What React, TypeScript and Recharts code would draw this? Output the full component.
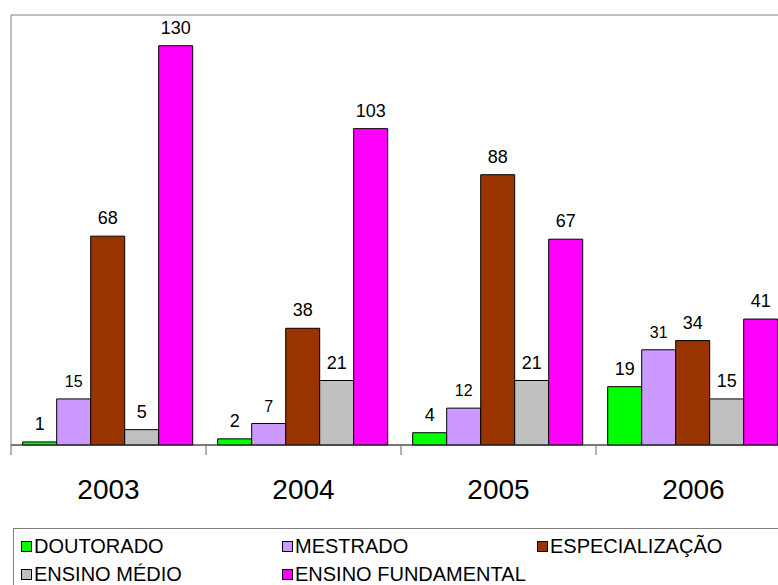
import { BarChart, Bar, XAxis, YAxis, LabelList, ReferenceArea } from 'recharts';

// Categories and series values
const years = ['2003', '2004', '2005', '2006'];
const doutorado = [1, 2, 4, 19];
const mestrado = [15, 7, 12, 31];
const especializacao = [68, 38, 88, 34];
const ensinoMedio = [5, 21, 21, 15];
const ensinoFundamental = [130, 103, 67, 41];

const seriesList = [
  { key: 'doutorado', name: 'DOUTORADO', color: '#00FF00', labelSize: 18 },
  { key: 'mestrado', name: 'MESTRADO', color: '#CC99FF', labelSize: 16 },
  { key: 'especializacao', name: 'ESPECIALIZAÇÃO', color: '#993300', labelSize: 18 },
  { key: 'ensinoMedio', name: 'ENSINO MÉDIO', color: '#C0C0C0', labelSize: 18 },
  { key: 'ensinoFundamental', name: 'ENSINO FUNDAMENTAL', color: '#FF00FF', labelSize: 18 },
];

const data = years.map((year, i) => ({
  year,
  doutorado: doutorado[i],
  mestrado: mestrado[i],
  especializacao: especializacao[i],
  ensinoMedio: ensinoMedio[i],
  ensinoFundamental: ensinoFundamental[i],
}));

const FONT = '"Liberation Sans", Arial, sans-serif';

/** Chart is wider than the window; the right edge gets clipped like the reference. */
const CHART_W = 800;
const CHART_H = 520;
const MARGIN = { top: 15, right: 9, bottom: 15, left: 11 };
const HALF_BAND = (CHART_W - MARGIN.left - MARGIN.right) / years.length / 2;

// Year label centred in the band, tick mark on the band's left boundary
function YearTick(props: any) {
  const { x, y, payload } = props;
  return (
    <g>
      <line x1={x - HALF_BAND} y1={y} x2={x - HALF_BAND} y2={y + 10} stroke="#666" strokeWidth={1} />
      <text x={x} y={y + 54} textAnchor="middle" fontSize={28} fontFamily={FONT} fill="#000">
        {payload.value}
      </text>
    </g>
  );
}

// Two-row legend in a box that runs off the right edge
const legendRows = [
  [seriesList[0], seriesList[1], seriesList[2]],
  [seriesList[3], seriesList[4]],
];
const legendColX = [7, 268, 523];

function LegendBox() {
  return (
    <div
      style={{
        position: 'absolute',
        left: 13,
        top: 528,
        width: 800,
        height: 70,
        borderTop: '1px solid #808080',
        borderLeft: '1px solid #808080',
        fontFamily: FONT,
        fontSize: 20,
        color: '#000',
      }}
    >
      {legendRows.map((row, r) =>
        row.map((s, c) => (
          <div
            key={s.key}
            style={{
              position: 'absolute',
              left: legendColX[c],
              top: 6 + r * 28,
              display: 'flex',
              alignItems: 'center',
              whiteSpace: 'nowrap',
              lineHeight: '22px',
            }}
          >
            <span
              style={{
                display: 'inline-block',
                width: 9,
                height: 9,
                background: s.color,
                border: '1px solid #000',
                marginRight: 2,
              }}
            />
            {s.name}
          </div>
        ))
      )}
    </div>
  );
}

export default function App() {
  return (
    <div
      style={{
        position: 'absolute',
        left: 0,
        top: 0,
        width: 778,
        height: 585,
        overflow: 'hidden',
        background: '#fff',
      }}
    >
      <BarChart
        width={CHART_W}
        height={CHART_H}
        data={data}
        margin={MARGIN}
        barCategoryGap="6%"
        barGap={0}
      >
        <ReferenceArea y1={0} y2={140} fill="none" stroke="#808080" strokeWidth={1} ifOverflow="visible" />
        <XAxis
          dataKey="year"
          height={60}
          tickSize={0}
          tickMargin={0}
          tickLine={false}
          axisLine={{ stroke: '#333' }}
          tick={<YearTick />}
          interval={0}
        />
        <YAxis hide domain={[0, 140]} />
        {seriesList.map((s) => (
          <Bar
            key={s.key}
            dataKey={s.key}
            name={s.name}
            fill={s.color}
            stroke="#000"
            strokeWidth={1}
            isAnimationActive={false}
          >
            <LabelList
              dataKey={s.key}
              position="top"
              offset={12}
              fill="#000"
              fontSize={s.labelSize}
              fontFamily={FONT}
            />
          </Bar>
        ))}
      </BarChart>
      <LegendBox />
    </div>
  );
}
